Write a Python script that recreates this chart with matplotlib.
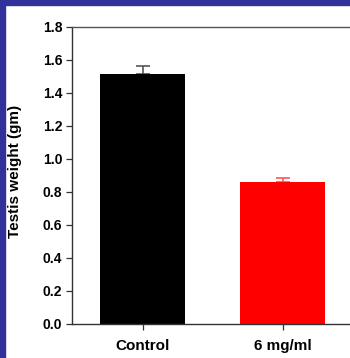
import matplotlib
matplotlib.use("Agg")
import matplotlib.pyplot as plt
from matplotlib.patches import Rectangle

categories = ["Control", "6 mg/ml"]
values = [1.513, 0.86]
errors = [0.045, 0.022]
colors = ["#000000", "#FF0000"]
yticks = [0.0, 0.2, 0.4, 0.6, 0.8, 1.0, 1.2, 1.4, 1.6, 1.8]

plt.rcParams['font.family'] = ['Liberation Sans', 'DejaVu Sans']
W, H = 350, 358
fig = plt.figure(figsize=(W/100, H/100), dpi=100)
fig.patch.set_facecolor("white")

blue = "#31319A"
fig.patches.append(Rectangle((0, 1 - 5/H), 1, 5/H, transform=fig.transFigure, color=blue, zorder=10))
fig.patches.append(Rectangle((0, 0), 5/W, 1, transform=fig.transFigure, color=blue, zorder=10))

left, right = 72/W, 352/W
bottom, top = 1 - 323.5/H, 1 - 26.5/H
ax = fig.add_axes([left, bottom, right - left, top - bottom])

x = list(range(len(categories)))
ax.bar(x, values, width=85/140, color=colors, zorder=2)
for xi, v, e, c in zip(x, values, errors, colors):
    ecol = "#555555" if c == "#000000" else "#FF5555"
    ax.errorbar([xi], [v], yerr=[[0], [e]], fmt="none", ecolor=ecol,
                elinewidth=1.2, capsize=5, capthick=1.2, zorder=1)

xl = -(142.5 - 72)/140
ax.set_xlim(xl, xl + 280/140)
ax.set_ylim(0, 1.8)
ax.set_yticks(yticks)
ax.set_yticklabels([f"{t:.1f}" for t in yticks], fontsize=10, fontweight="bold")
ax.set_xticks(x)
ax.set_xticklabels(categories, fontsize=11, fontweight="bold")
ax.tick_params(axis="both", direction="out", length=4, width=0.9, color="#333333")
ax.tick_params(axis="x", pad=7)
ax.tick_params(axis="y", pad=3)
for s in ["left", "bottom", "top"]:
    ax.spines[s].set_color("#333333")
    ax.spines[s].set_linewidth(1.0)
ax.spines["top"].set_color("#555555")
ax.spines["right"].set_visible(False)
ax.set_ylabel("Testis weight (gm)", fontsize=11, fontweight="bold")
ax.yaxis.set_label_coords((22 - 72)/280, (323.5 - 171)/297)

fig.savefig("out.png", dpi=100)
